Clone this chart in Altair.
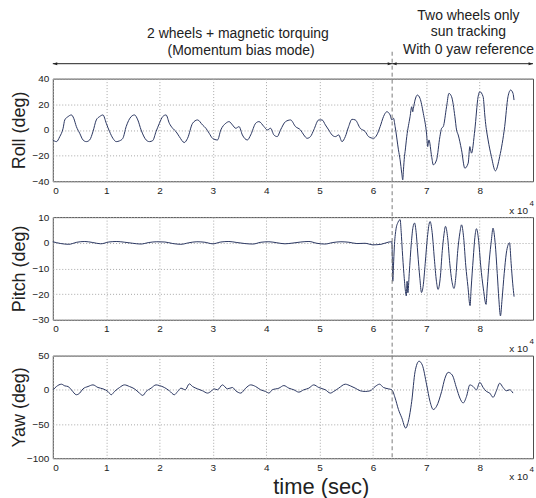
import altair as alt
import pandas as pd

# Attitude response of the satellite; time is in units of 1e4 s
roll_t = [0.0, 0.068, 0.131, 0.193, 0.224, 0.286, 0.348, 0.392, 0.442, 0.504, 0.566, 0.628,
          0.691, 0.753, 0.815, 0.877, 0.940, 1.002, 1.064, 1.126, 1.189, 1.251, 1.313, 1.375,
          1.469, 1.531, 1.593, 1.655, 1.749, 1.811, 1.873, 1.935, 1.998, 2.060, 2.122, 2.184,
          2.246, 2.309, 2.371, 2.464, 2.526, 2.620, 2.713, 2.806, 2.869, 2.931, 2.993,
          3.087, 3.149, 3.242, 3.304, 3.367, 3.429, 3.491, 3.553, 3.647, 3.709, 3.802, 3.864,
          3.958, 4.020, 4.082, 4.144, 4.206, 4.268, 4.362, 4.456, 4.549, 4.642, 4.704, 4.767,
          4.829, 4.891, 4.984, 5.047, 5.109, 5.171, 5.233, 5.296, 5.358, 5.420, 5.482, 5.544,
          5.607, 5.669, 5.762, 5.856, 5.918, 6.011, 6.073, 6.135, 6.198, 6.229, 6.260, 6.322,
          6.354, 6.385, 6.416, 6.478, 6.509, 6.540, 6.559, 6.572, 6.591, 6.603, 6.634, 6.696,
          6.727, 6.746, 6.758, 6.789, 6.833, 6.882, 6.944, 7.007, 7.026, 7.050, 7.100, 7.131,
          7.193, 7.255, 7.287, 7.318, 7.380, 7.424, 7.474, 7.536, 7.567, 7.598, 7.660, 7.722,
          7.785, 7.816, 7.847, 7.909, 7.971, 8.003, 8.065, 8.096, 8.108, 8.158, 8.220, 8.295,
          8.376, 8.469, 8.531, 8.581, 8.625, 8.644]
roll_deg = [-7.8, -9.1, -5.2, 1.3, 7.8, 10.4, 11.7, 9.1, 2.6, -2.6, -7.8, -9.1,
            -7.8, -1.3, 7.8, 10.4, 11.7, 5.2, -1.3, -6.5, -9.1, -8.5, -6.5, 2.6,
            10.4, 11.7, 7.8, 0.0, -7.8, -9.1, -8.3, -1.3, 5.2, 10.4, 11.7, 5.2,
            1.3, -1.3, -5.2, -9.8, -6.5, 5.2, 7.8, 3.9, 1.3, -2.6, -6.5,
            -7.8, 0.0, 5.2, 6.5, 3.9, 1.3, 2.6, -3.9, -7.8, -3.9, 5.2, 6.5,
            2.6, 0.0, 1.3, -3.9, -5.2, 0.0, 6.5, 7.8, 2.6, 0.0, -3.9, -6.5,
            -5.2, 0.0, 7.8, 7.8, 3.9, 0.0, -3.9, -5.2, -3.9, -9.1, -5.2, 2.6,
            8.3, 7.8, 1.3, -1.3, -5.2, -6.5, -3.9, 2.6, 10.4, 13.0, 14.2, 11.7,
            7.8, 9.1, 2.6, -15.5, -23.3, -33.7, -38.9, -31.1, -20.7, -16.8, -5.2, 10.4,
            18.1, 14.2, 16.8, 23.3, 27.2, 24.6, 13.0, -3.9, -13.0, -7.8, -20.7, -27.2,
            -23.3, -5.2, 1.3, 2.6, 18.1, 28.5, 25.9, 10.4, 0.0, -3.9, -15.5, -29.8,
            -25.9, -13.0, -18.1, 0.0, 25.9, 29.8, 25.9, 11.7, 6.5, -7.8, -20.7, -31.9,
            -20.7, 2.6, 25.9, 31.1, 28.5, 23.3]

pitch_t = [0.0, 0.15, 0.3, 0.45, 0.6, 0.75, 0.9, 1.05, 1.2, 1.35, 1.5, 1.65, 1.8, 1.95,
           2.1, 2.25, 2.4, 2.55, 2.7, 2.85, 3.0, 3.15, 3.3, 3.45, 3.6, 3.75, 3.9, 4.05,
           4.2, 4.35, 4.5, 4.65, 4.8, 4.95, 5.1, 5.25, 5.4, 5.55, 5.7, 5.85, 6.0, 6.15,
           6.3, 6.355, 6.365, 6.372, 6.385, 6.40, 6.43, 6.47, 6.51, 6.53, 6.55, 6.58, 6.61,
           6.625, 6.64, 6.655, 6.68, 6.72, 6.75, 6.78, 6.81, 6.84, 6.88, 6.91, 6.94, 6.98,
           7.02, 7.07, 7.11, 7.15, 7.19, 7.22, 7.26, 7.30, 7.33, 7.36, 7.40, 7.44, 7.48,
           7.52, 7.55, 7.59, 7.63, 7.66, 7.70, 7.74, 7.78, 7.82, 7.84, 7.88, 7.91, 7.94,
           7.98, 8.02, 8.07, 8.12, 8.14, 8.18, 8.22, 8.25, 8.29, 8.33, 8.36, 8.39, 8.42,
           8.46, 8.50, 8.53, 8.56, 8.59, 8.62, 8.645]
pitch_deg = [0.4, -0.3, -0.6, 0.2, 0.5, 0.1, -0.4, 0.3, 0.5, 0.2, -0.2, -0.5, 0.1, 0.4,
             0.3, -0.3, -0.6, 0.0, 0.4, 0.2, -0.4, 0.3, 0.5, 0.1, -0.3, -0.5, 0.2, 0.4,
             0.0, -0.4, -0.1, 0.3, 0.5, -0.2, -0.5, 0.1, 0.4, 0.2, -0.3, -0.2, -0.8, -0.6,
             0.3, 0.4, -8.0, -15.0, -9.0, -2.0, 5.0, 8.0, 9.0, 4.0, -3.0, -12.0, -19.0,
             -20.7, -15.0, -19.5, -12.0, 0.0, 6.0, 7.7, 4.0, -4.0, -14.0, -19.4, -17.0, -8.0,
             2.0, 8.3, 4.0, -6.0, -15.0, -18.2, -14.0, -3.0, 3.0, 6.4, 2.0, -8.0, -15.0,
             -17.8, -14.0, -3.0, 4.0, 7.0, 2.0, -9.0, -17.0, -24.5, -18.0, -6.0, 2.0, 5.5,
             1.0, -9.0, -18.0, -24.0, -18.0, -7.0, 1.0, 5.7, 0.0, -12.0, -22.0, -28.5, -22.0,
             -12.0, -4.0, -1.0, 0.0, -8.0, -16.0, -21.0]

yaw_t = [0.006, 0.068, 0.162, 0.224, 0.286, 0.348, 0.442, 0.504, 0.566, 0.660, 0.753, 0.846,
         0.940, 1.033, 1.095, 1.157, 1.251, 1.344, 1.437, 1.531, 1.624, 1.686, 1.749, 1.842,
         1.935, 1.998, 2.091, 2.184, 2.278, 2.340, 2.402, 2.483, 2.558, 2.620, 2.713, 2.806,
         2.900, 2.962, 3.024, 3.086, 3.180, 3.273, 3.367, 3.429, 3.522, 3.615, 3.709, 3.802,
         3.895, 3.989, 4.051, 4.113, 4.238, 4.331, 4.424, 4.518, 4.611, 4.704, 4.798, 4.891,
         4.984, 5.109, 5.202, 5.264, 5.358, 5.482, 5.576, 5.669, 5.762, 5.856, 5.949, 6.042,
         6.123, 6.198, 6.291, 6.354, 6.416, 6.478, 6.540, 6.615, 6.665, 6.727, 6.789, 6.864,
         6.926, 7.007, 7.069, 7.131, 7.193, 7.287, 7.349, 7.411, 7.486, 7.567, 7.629, 7.691,
         7.754, 7.816, 7.878, 7.940, 8.002, 8.065, 8.127, 8.189, 8.251, 8.314, 8.376, 8.438,
         8.500, 8.563, 8.625]
yaw_deg = [0.0, 4.8, 8.2, 5.8, 4.8, 0.0, -7.2, -4.8, 1.4, 4.8, 7.2, 3.4,
           1.4, -2.4, -7.2, -2.4, 3.4, 7.2, 4.8, 1.4, -4.8, -8.2, -2.4, 2.4,
           7.2, 6.2, 3.4, -1.4, -7.2, -2.4, 2.4, 0.0, 8.7, 4.8, 1.4, -1.4,
           -4.8, -2.4, 1.4, 0.0, 7.2, 1.4, 3.4, -1.4, -4.8, 2.4, 7.2, 4.8,
           0.0, -2.4, -4.8, 0.0, 2.4, 6.2, 2.4, 0.0, -3.4, 0.0, 2.4, 7.2,
           3.4, 0.0, -4.8, -2.4, 2.4, 8.2, 5.8, 2.4, -1.4, -2.4, -1.4, 4.8,
           8.2, 3.4, 1.4, 0.0, -12.0, -28.8, -40.9, -56.0, -45.7, -16.8, 26.4, 41.8,
           36.0, 7.2, -16.8, -28.8, -24.0, -2.4, 16.8, 25.5, 21.6, 2.4, -12.0, -19.2,
           -9.6, 7.2, 4.8, 0.0, 11.0, 3.4, -2.4, -4.8, -11.0, -1.4, 9.6, 3.4,
           -1.4, 0.0, -4.8]

x_ticks = [0, 1, 2, 3, 4, 5, 6, 7, 8]
roll_ticks = [-40, -20, 0, 20, 40]
pitch_ticks = [-30, -20, -10, 0, 10]
yaw_ticks = [-100, -50, 0, 50]

switch_t = 6.36   # change of control mode
end_t = 9.0

W, H, GAP = 482, 103, 36
LINE = "#2a3660"
INK = "#222222"
FONT = "Liberation Sans"

x_scale = alt.Scale(domain=[0, end_t], nice=False, zero=False)


def one_row(**cols):
    return pd.DataFrame({k: [v] for k, v in cols.items()})


def text_mark(text, size, x=None, t=None, y=0, align="center"):
    enc = dict(y=alt.value(y), text="s:N")
    if t is not None:
        enc["x"] = alt.X("t:Q", scale=x_scale)
    else:
        enc["x"] = alt.value(x)
    return alt.Chart(one_row(s=text, t=t if t is not None else 0)).mark_text(
        font=FONT, fontSize=size, color=INK, align=align, baseline="middle"
    ).encode(**enc)


def exponent_note(y):
    # "x 10^4" multiplier written below the right end of the time axis
    return [
        text_mark("x 10", 10, x=W - 5, y=y, align="right"),
        text_mark("4", 8, x=W + 1, y=y - 7, align="right"),
    ]


def switch_line(y0, y1):
    return alt.Chart(one_row(t=switch_t)).mark_rule(
        color="#7a7a7a", strokeDash=[4, 3], strokeWidth=1
    ).encode(x=alt.X("t:Q", scale=x_scale), y=alt.value(y0), y2=alt.value(y1))


def panel(t, v, ylabel, domain, yticks, xtitle=None, extras=()):
    df = pd.DataFrame({"t": t, "v": v})
    if xtitle:
        x_axis = alt.Axis(values=x_ticks, title=xtitle, format="d",
                          titleFontSize=22, titleFont=FONT, titleFontWeight="normal",
                          titleColor=INK, titleX=269, titleY=28, titleBaseline="middle")
    else:
        x_axis = alt.Axis(values=x_ticks, title=None, format="d")
    line = alt.Chart(df).mark_line(
        color=LINE, strokeWidth=1, interpolate="monotone"
    ).encode(
        x=alt.X("t:Q", scale=x_scale, axis=x_axis),
        y=alt.Y("v:Q", scale=alt.Scale(domain=domain, nice=False, zero=False),
                axis=alt.Axis(values=yticks, title=ylabel, titleX=-33.5,
                              titleBaseline="middle", titleAngle=270)),
    )
    return alt.layer(line, *extras).properties(width=W, height=H)


# arrows above the roll panel marking the two operating modes
arrow_y = -15
arrow_df = pd.DataFrame({"a": [0.0, switch_t], "b": [switch_t, end_t]})
arrow_lines = alt.Chart(arrow_df).mark_rule(color=INK, strokeWidth=1).encode(
    x=alt.X("a:Q", scale=x_scale), x2="b:Q", y=alt.value(arrow_y)
)
left_heads = alt.Chart(pd.DataFrame({"t": [0.0, switch_t]})).mark_point(
    shape="M0,0L2,-0.7L2,0.7Z", filled=True, color=INK, opacity=1, size=20, strokeWidth=0
).encode(x=alt.X("t:Q", scale=x_scale), y=alt.value(arrow_y))
right_heads = alt.Chart(pd.DataFrame({"t": [switch_t, end_t]})).mark_point(
    shape="M0,0L-2,-0.7L-2,0.7Z", filled=True, color=INK, opacity=1, size=20, strokeWidth=0
).encode(x=alt.X("t:Q", scale=x_scale), y=alt.value(arrow_y))

mode_labels = [
    text_mark("2 wheels + magnetic torquing", 14, t=3.47, y=-45),
    text_mark("(Momentum bias mode)", 14, t=3.53, y=-28),
    text_mark("Two wheels only", 14, t=7.79, y=-63),
    text_mark("sun tracking", 14, t=7.79, y=-47),
    text_mark("With 0 yaw reference", 14, t=7.79, y=-29),
]

roll = panel(roll_t, roll_deg, "Roll (deg)", [-40, 40], roll_ticks,
             extras=[switch_line(-27, H + GAP), arrow_lines, left_heads, right_heads,
                     *mode_labels, *exponent_note(H + 30)])
pitch = panel(pitch_t, pitch_deg, "Pitch (deg)", [-30, 10], pitch_ticks,
              extras=[switch_line(0, H + GAP), *exponent_note(H + 29)])
yaw = panel(yaw_t, yaw_deg, "Yaw (deg)", [-100, 50], yaw_ticks, xtitle="time (sec)",
            extras=[switch_line(0, H), *exponent_note(H + 19)])

chart = alt.vconcat(roll, pitch, yaw, spacing=GAP, bounds="flush").properties(
    padding={"left": 10, "top": 7, "right": 1, "bottom": 1},
    background="white",
).configure_view(
    stroke="#4d4d4d", strokeWidth=1
).configure_axis(
    domain=False, ticks=False, labelPadding=4,
    labelFont=FONT, labelFontSize=10, labelColor=INK,
    titleFont=FONT, titleFontSize=18, titleFontWeight="normal", titleColor=INK,
    grid=True, gridColor="#a8a8a8", gridDash=[1, 2], gridWidth=1,
)

chart.save("out.html", embed_options={"renderer": "svg", "actions": False})
